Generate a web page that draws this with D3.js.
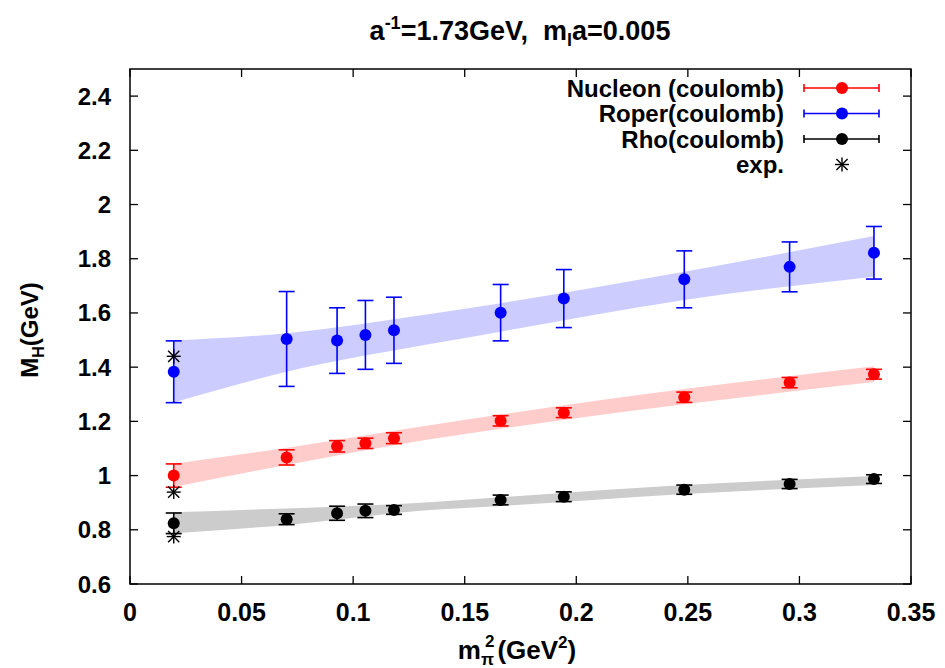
<!DOCTYPE html>
<html><head><meta charset="utf-8">
<script src="https://cdn.jsdelivr.net/npm/d3@7"></script>
<style>
body{margin:0;background:#fff;}
svg text{font-family:"Liberation Sans",Arial,sans-serif;}
</style></head>
<body><svg id="c" width="945" height="668"></svg>
<script>
const mpi2 = [0.0196, 0.0702, 0.0928, 0.1055, 0.1183, 0.1661, 0.1944, 0.2484, 0.2956, 0.3334];
const nucleonM = [1.000, 1.067, 1.108, 1.119, 1.138, 1.202, 1.232, 1.289, 1.343, 1.374];
const nucleonErr = [0.043, 0.028, 0.021, 0.019, 0.020, 0.019, 0.018, 0.019, 0.019, 0.018];
const roperM = [1.383, 1.504, 1.498, 1.519, 1.536, 1.601, 1.653, 1.724, 1.770, 1.822];
const roperErr = [0.114, 0.175, 0.121, 0.127, 0.122, 0.104, 0.107, 0.105, 0.092, 0.097];
const rhoM = [0.824, 0.839, 0.861, 0.870, 0.873, 0.910, 0.922, 0.948, 0.969, 0.987];
const rhoErr = [0.038, 0.020, 0.026, 0.025, 0.016, 0.018, 0.018, 0.017, 0.017, 0.016];
const expX = [0.0196, 0.0196, 0.0196];
const expM = [0.939, 1.440, 0.775];
const bandX = [0.0196, 0.0702, 0.1344, 0.1661, 0.2484, 0.3334];
const roperLo = [1.270, 1.383, 1.485, 1.531, 1.648, 1.734];
const roperHi = [1.498, 1.525, 1.596, 1.636, 1.752, 1.884];
const nucleonLo = [0.958, 1.039, 1.134, 1.173, 1.263, 1.345];
const nucleonHi = [1.044, 1.103, 1.186, 1.225, 1.319, 1.403];
const rhoLo = [0.787, 0.818, 0.873, 0.888, 0.932, 0.965];
const rhoHi = [0.865, 0.879, 0.902, 0.920, 0.965, 0.998];
const xTicks = [0, 0.05, 0.1, 0.15, 0.2, 0.25, 0.3, 0.35];
const yTicks = [0.6, 0.8, 1, 1.2, 1.4, 1.6, 1.8, 2, 2.2, 2.4];
const legendNames = ["Nucleon (coulomb)", "Roper(coulomb)", "Rho(coulomb)", "exp."];

const L = 130, R = 911, T = 69, B = 584;
const x = d3.scaleLinear().domain([0, 0.35]).range([L, R]);
const y = d3.scaleLinear().domain([0.6, 2.5]).range([B, T]);
const svg = d3.select("#c");

const series = [
  {m: nucleonM, e: nucleonErr, lo: nucleonLo, hi: nucleonHi, c: "#ff0000", band: "#ffcccc"},
  {m: roperM, e: roperErr, lo: roperLo, hi: roperHi, c: "#0000ff", band: "#ccccff"},
  {m: rhoM, e: rhoErr, lo: rhoLo, hi: rhoHi, c: "#000000", band: "#cccccc"}
];

// bands
const area = d3.area().x(d => x(d[0])).y0(d => y(d[1])).y1(d => y(d[2])).curve(d3.curveMonotoneX);
series.forEach(s => {
  svg.append("path").attr("d", area(bandX.map((v, i) => [v, s.lo[i], s.hi[i]]))).attr("fill", s.band);
});

// frame + ticks
const g = svg.append("g");
g.append("rect").attr("x", L).attr("y", T).attr("width", R - L).attr("height", B - T)
  .attr("fill", "none").attr("stroke", "#000").attr("stroke-width", 1.5);
const tl = 8;
xTicks.forEach(t => {
  g.append("line").attr("x1", x(t)).attr("x2", x(t)).attr("y1", B).attr("y2", B - tl).attr("stroke", "#000").attr("stroke-width", 1.3);
  g.append("line").attr("x1", x(t)).attr("x2", x(t)).attr("y1", T).attr("y2", T + tl).attr("stroke", "#000").attr("stroke-width", 1.3);
  g.append("text").attr("x", x(t)).attr("y", 621).attr("text-anchor", "middle")
    .attr("font-size", 25).attr("font-weight", "bold").text(t === 0 ? "0" : String(t));
});
yTicks.forEach(t => {
  g.append("line").attr("x1", L).attr("x2", L + tl).attr("y1", y(t)).attr("y2", y(t)).attr("stroke", "#000").attr("stroke-width", 1.3);
  g.append("line").attr("x1", R).attr("x2", R - tl).attr("y1", y(t)).attr("y2", y(t)).attr("stroke", "#000").attr("stroke-width", 1.3);
  g.append("text").attr("x", 111).attr("y", y(t) + 8.5).attr("text-anchor", "end")
    .attr("font-size", 24).attr("font-weight", "bold").text(String(t));
});

// error bars and points
const cap = 8;
series.forEach(s => {
  const gg = svg.append("g").attr("stroke", s.c).attr("stroke-width", 1.6);
  mpi2.forEach((xv, i) => {
    const px = x(xv), yt = y(s.m[i] + s.e[i]), yb = y(s.m[i] - s.e[i]);
    gg.append("line").attr("x1", px).attr("x2", px).attr("y1", yt).attr("y2", yb);
    gg.append("line").attr("x1", px - cap).attr("x2", px + cap).attr("y1", yt).attr("y2", yt);
    gg.append("line").attr("x1", px - cap).attr("x2", px + cap).attr("y1", yb).attr("y2", yb);
  });
  svg.append("g").selectAll("circle").data(mpi2).join("circle")
    .attr("cx", d => x(d)).attr("cy", (d, i) => y(s.m[i])).attr("r", 6).attr("fill", s.c);
});

function star(sel, cx, cy, r) {
  const gs = sel.append("g").attr("stroke", "#000").attr("stroke-width", 1.4);
  const d = r * 0.8;
  gs.append("line").attr("x1", cx).attr("x2", cx).attr("y1", cy - r).attr("y2", cy + r);
  gs.append("line").attr("x1", cx - r).attr("x2", cx + r).attr("y1", cy).attr("y2", cy);
  gs.append("line").attr("x1", cx - d).attr("x2", cx + d).attr("y1", cy - d).attr("y2", cy + d);
  gs.append("line").attr("x1", cx - d).attr("x2", cx + d).attr("y1", cy + d).attr("y2", cy - d);
}
expX.forEach((xv, i) => star(svg, x(xv), y(expM[i]), 7));

// legend
const lx = 784, ly0 = 88, lsp = 25.5;
legendNames.forEach((n, i) => {
  const yy = ly0 + i * lsp;
  svg.append("text").attr("x", lx).attr("y", yy + 8.5).attr("text-anchor", "end")
    .attr("font-size", 24).attr("font-weight", "bold").text(n);
  if (i < 3) {
    const c = series[i].c;
    const lg = svg.append("g").attr("stroke", c).attr("stroke-width", 1.6);
    lg.append("line").attr("x1", 804).attr("x2", 879).attr("y1", yy).attr("y2", yy);
    lg.append("line").attr("x1", 804).attr("x2", 804).attr("y1", yy - 4).attr("y2", yy + 4);
    lg.append("line").attr("x1", 879).attr("x2", 879).attr("y1", yy - 4).attr("y2", yy + 4);
    svg.append("circle").attr("cx", 842).attr("cy", yy).attr("r", 6).attr("fill", c);
  } else {
    star(svg, 842, yy, 7);
  }
});

// title
const title = svg.append("text").attr("x", 520).attr("y", 40).attr("text-anchor", "middle")
  .attr("font-size", 27).attr("font-weight", "bold").attr("xml:space", "preserve");
title.append("tspan").text("a");
title.append("tspan").attr("font-size", 18).attr("dy", -11).text("-1");
title.append("tspan").attr("dy", 11).text("=1.73GeV,  m");
title.append("tspan").attr("font-size", 18).attr("dy", 6).text("l");
title.append("tspan").attr("dy", -6).text("a=0.005");

// x label
const xl = svg.append("text").attr("x", 517).attr("y", 659).attr("text-anchor", "middle")
  .attr("font-size", 26).attr("font-weight", "bold");
xl.append("tspan").text("m");
xl.append("tspan").attr("font-size", 17).attr("dy", 6).text("π");
xl.append("tspan").attr("font-size", 17).attr("dy", -18).attr("dx", -9).text("2");
xl.append("tspan").attr("dy", 12).attr("dx", 3).text("(GeV");
xl.append("tspan").attr("font-size", 17).attr("dy", -11).text("2");
xl.append("tspan").attr("dy", 11).text(")");

// y label
const yl = svg.append("text").attr("transform", "translate(38,330) rotate(-90)").attr("text-anchor", "middle")
  .attr("font-size", 24).attr("font-weight", "bold");
yl.append("tspan").text("M");
yl.append("tspan").attr("font-size", 16).attr("dy", 6).text("H");
yl.append("tspan").attr("dy", -6).text("(GeV)");
</script></body></html>
